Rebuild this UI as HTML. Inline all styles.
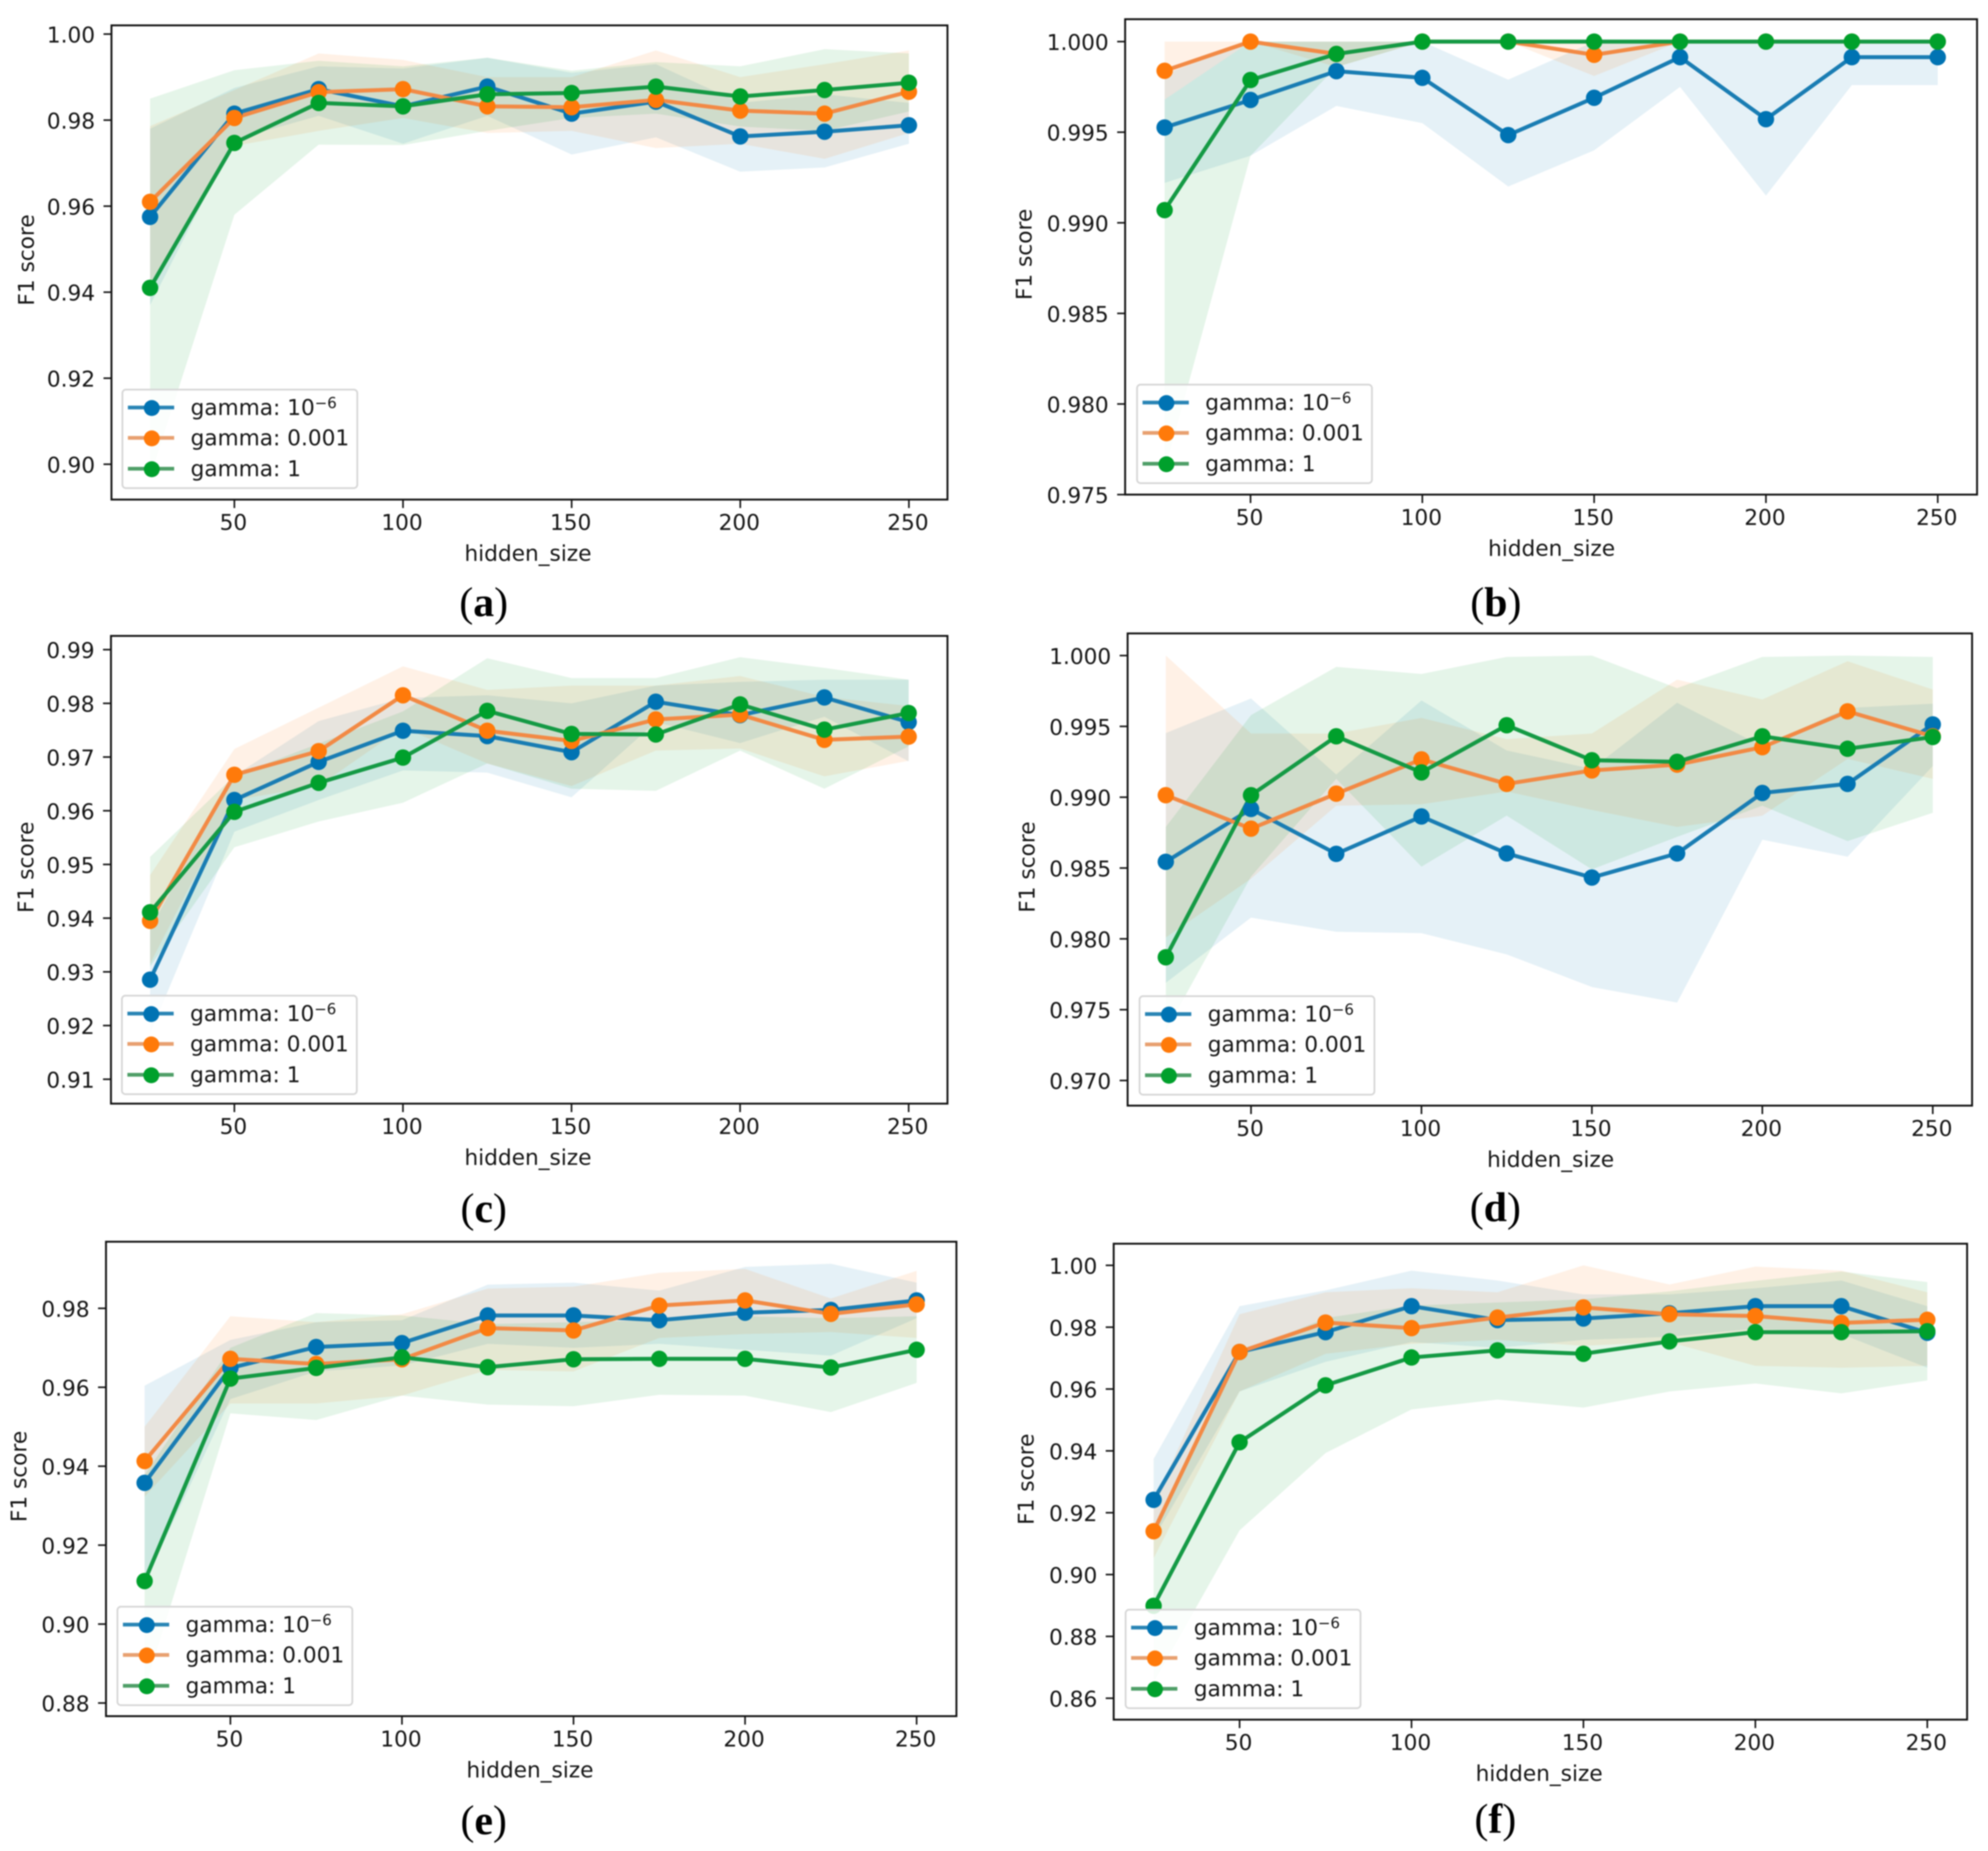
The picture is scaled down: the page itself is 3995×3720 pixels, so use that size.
<!DOCTYPE html>
<html lang="en">
<head>
<meta charset="utf-8">
<title>F1 score vs hidden_size panels</title>
<style>
  html, body { margin: 0; padding: 0; background: #fff; }
  #figure { display: block; width: 3995px; height: 3720px; background: #fff; filter: blur(1.2px); }
  text { font-family: "DejaVu Sans", "Liberation Sans", sans-serif; fill: #151515; }
  .caption { font-family: "Liberation Serif", serif; font-size: 84px; fill: #000; }
</style>
</head>
<body>
<svg id="figure" xmlns="http://www.w3.org/2000/svg" width="3995" height="3720" viewBox="0 0 3995 3720"></svg>
<script>
// ---------- shared categories ----------
const hiddenSizes = [25, 50, 75, 100, 125, 150, 175, 200, 225, 250];
const xTickValues = [50, 100, 150, 200, 250];
const seriesKeys = ['blue', 'orange', 'green'];

// ---------- panel (a) ----------
const aYTicks = ['0.90', '0.92', '0.94', '0.96', '0.98', '1.00'];
const aBlueMean = [.9575, .9815, .9872, .9832, .9878, .9815, .9843, .9762, .9773, .9788];
const aBlueUpper = [.978, .9875, .9925, .992, .9945, .991, .993, .984, .986, .984];
const aBlueLower = [.937, .9755, .981, .9745, .981, .972, .976, .968, .969, .9745];
const aOrangeMean = [.961, .9805, .9865, .9872, .9832, .983, .9847, .9822, .9815, .9866];
const aOrangeUpper = [.9786, .987, .9955, .994, .99, .99, .9962, .99, .993, .9962];
const aOrangeLower = [.941, .974, .9775, .9805, .977, .9775, .9735, .9745, .971, .977];
const aGreenMean = [.941, .9747, .984, .9832, .986, .9863, .9878, .9855, .987, .9887];
const aGreenUpper = [.985, .9916, .9938, .9925, .9945, .9915, .9935, .9925, .9965, .9955];
const aGreenLower = [.897, .958, .9743, .9742, .9775, .9805, .9815, .9785, .9775, .982];

// ---------- panel (b) ----------
const bYTicks = ['0.975', '0.980', '0.985', '0.990', '0.995', '1.000'];
const bBlueMean = [.99526, .99678, .99837, .998, .99484, .9969, .99914, .99572, .99914, .99914];
const bBlueUpper = [.9982, 1, 1, 1, .9979, 1, 1, 1, 1, 1];
const bBlueLower = [.9922, .9937, .99645, .9955, .992, .994, .9975, .9915, .9976, .9976];
const bOrangeMean = [.99839, 1, .99932, 1, 1, .99927, 1, 1, 1, 1];
const bOrangeUpper = [1, 1, 1, 1, 1, 1, 1, 1, 1, 1];
const bOrangeLower = [.9968, 1, .9986, 1, 1, .9981, 1, 1, 1, 1];
const bGreenMean = [.9907, .99788, .99932, 1, 1, 1, 1, 1, 1, 1];
const bGreenUpper = [.9968, 1, 1, 1, 1, 1, 1, 1, 1, 1];
const bGreenLower = [.9763, .9937, .9986, 1, 1, 1, 1, 1, 1, 1];

// ---------- panel (c) ----------
const cYTicks = ['0.91', '0.92', '0.93', '0.94', '0.95', '0.96', '0.97', '0.98', '0.99'];
const cBlueMean = [.92854, .962, .9691, .9749, .9739, .9709, .9803, .9778, .9811, .9765];
const cBlueUpper = [.938, .9665, .9767, .981, .9815, .98, .9833, .984, .9844, .9844];
const cBlueLower = [.9185, .9561, .962, .9675, .9671, .9625, .9765, .9726, .9775, .9692];
const cOrangeMean = [.9395, .9667, .9711, .9815, .9749, .973, .977, .9779, .9732, .9738];
const cOrangeUpper = [.948, .9715, .9792, .9869, .9825, .9833, .9833, .9851, .9812, .9795];
const cOrangeLower = [.9315, .962, .9646, .9755, .9688, .9646, .9712, .9716, .9664, .9693];
const cGreenMean = [.9411, .9598, .9652, .9699, .9786, .9743, .9742, .9798, .9751, .9782];
const cGreenUpper = [.9514, .9665, .9725, .9785, .9884, .9847, .9847, .9886, .9866, .9844];
const cGreenLower = [.931, .9532, .958, .9615, .9688, .9641, .9637, .9712, .9641, .972];

// ---------- panel (d) ----------
const dYTicks = ['0.970', '0.975', '0.980', '0.985', '0.990', '0.995', '1.000'];
const dBlueMean = [.98544, .98917, .986, .98864, .98603, .98433, .98603, .9903, .99094, .99514];
const dBlueUpper = [.99453, .99697, .9916, .99683, .9933, .992, .99667, .9936, .9963, .9966];
const dBlueLower = [.9769, .9815, .9805, .9804, .9789, .9766, .9755, .987, .9858, .9922];
const dOrangeMean = [.99014, .98778, .99025, .99267, .99094, .99189, .9923, .99353, .99606, .9943];
const dOrangeUpper = [1, .9945, .9945, .9956, .9941, .9945, .9983, .9969, .9996, .9976];
const dOrangeLower = [.9801, .98425, .9894, .9895, .9904, .9891, .9879, .9887, .9927, .9913];
const dGreenMean = [.9787, .99014, .9943, .99175, .99508, .99261, .9925, .9943, .99342, .99425];
const dGreenUpper = [.9879, .9958, .9992, .9987, .9999, 1, .9977, .9999, 1, .9999];
const dGreenLower = [.9735, .9844, .9913, .9851, .9887, .9849, .9872, .9894, .9869, .9889];

// ---------- panel (e) ----------
const eYTicks = ['0.88', '0.90', '0.92', '0.94', '0.96', '0.98'];
const eBlueMean = [.93578, .9649, .9702, .9712, .9782, .9782, .977, .9789, .9796, .982];
const eBlueUpper = [.9604, .972, .9765, .977, .986, .9865, .9845, .9905, .9913, .9865];
const eBlueLower = [.9105, .957, .964, .9655, .971, .97, .971, .9695, .968, .9775];
const eOrangeMean = [.9413, .9672, .9659, .9671, .975, .9744, .9807, .982, .9786, .981];
const eOrangeUpper = [.95, .978, .9765, .9785, .985, .9855, .989, .99, .9825, .9895];
const eOrangeLower = [.9323, .9559, .9559, .9579, .9644, .964, .9725, .9735, .974, .9725];
const eGreenMean = [.9109, .9622, .9649, .9676, .9651, .9671, .9672, .9672, .965, .9695];
const eGreenUpper = [.9378, .97, .9788, .9782, .976, .9765, .977, .978, .9775, .978];
const eGreenLower = [.8835, .9534, .9517, .9579, .9556, .9552, .9581, .9579, .9537, .9611];

// ---------- panel (f) ----------
const fYTicks = ['0.86', '0.88', '0.90', '0.92', '0.94', '0.96', '0.98', '1.00'];
const fBlueMean = [.92416, .972, .9784, .9868, .9823, .9828, .9845, .9868, .9868, .9782];
const fBlueUpper = [.9374, .9868, .9919, .9983, .9951, .9906, .9906, .9926, .9951, .9868];
const fBlueLower = [.9117, .9592, .9688, .9752, .9733, .9759, .9769, .9795, .9778, .9669];
const fOrangeMean = [.914, .972, .9815, .9797, .9831, .9864, .9842, .9836, .9814, .9824];
const fOrangeUpper = [.9233, .9842, .9913, .9926, .9913, 1, .9938, .9996, .9983, .9913];
const fOrangeLower = [.9053, .9592, .9714, .9746, .9759, .974, .9752, .9675, .9669, .9675];
const fGreenMean = [.8899, .9428, .9612, .9702, .9725, .9714, .9754, .9784, .9784, .9787];
const fGreenUpper = [.9148, .9713, .983, .987, .988, .989, .9916, .995, .998, .9946];
const fGreenLower = [.865, .9143, .9393, .9534, .9566, .954, .9592, .9618, .9586, .9628];

// ---------- layout (separate from the data) ----------
const seriesColors = { blue: '#0073b3', orange: '#ff7a0a', green: '#00a02c' };
const seriesLineColors = { blue: '#1a7db3', orange: '#f28a45', green: '#159a45' };
const legendLineColors = { blue: '#2a85b5', orange: '#e8a070', green: '#4f9f68' };
const legendLabels = { orange: 'gamma: 0.001', green: 'gamma: 1' };

const panels = [
  { id: 'a', L: 224, R: 1904, T: 51, B: 1004, x50: 471, x250: 1826.5, yLo: [0.90, 933], yHi: [1.00, 68.5], ticks: aYTicks,
    mean: { blue: aBlueMean, orange: aOrangeMean, green: aGreenMean }, upper: { blue: aBlueUpper, orange: aOrangeUpper, green: aGreenUpper }, lower: { blue: aBlueLower, orange: aOrangeLower, green: aGreenLower },
    legend: [246, 783], labelCx: 1061, yLabelX: 68, capX: 972, capY: 1238 },
  { id: 'b', L: 2261, R: 3973, T: 38.6, B: 994, x50: 2513, x250: 3894, yLo: [0.975, 994], yHi: [1.000, 83.6], ticks: bYTicks,
    mean: { blue: bBlueMean, orange: bOrangeMean, green: bGreenMean }, upper: { blue: bBlueUpper, orange: bOrangeUpper, green: bGreenUpper }, lower: { blue: bBlueLower, orange: bOrangeLower, green: bGreenLower },
    legend: [2285, 773], labelCx: 3118, yLabelX: 2073, capX: 3006, capY: 1238 },
  { id: 'c', L: 223, R: 1904, T: 1278, B: 2218, x50: 471, x250: 1826, yLo: [0.91, 2169], yHi: [0.99, 1305.6], ticks: cYTicks,
    mean: { blue: cBlueMean, orange: cOrangeMean, green: cGreenMean }, upper: { blue: cBlueUpper, orange: cOrangeUpper, green: cGreenUpper }, lower: { blue: cBlueLower, orange: cOrangeLower, green: cGreenLower },
    legend: [245, 2001], labelCx: 1061, yLabelX: 67, capX: 972, capY: 2456 },
  { id: 'd', L: 2266, R: 3963, T: 1273, B: 2222, x50: 2514, x250: 3884, yLo: [0.970, 2171.5], yHi: [1.000, 1317.5], ticks: dYTicks,
    mean: { blue: dBlueMean, orange: dOrangeMean, green: dGreenMean }, upper: { blue: dBlueUpper, orange: dOrangeUpper, green: dGreenUpper }, lower: { blue: dBlueLower, orange: dOrangeLower, green: dGreenLower },
    legend: [2290, 2002], labelCx: 3116, yLabelX: 2079, capX: 3005, capY: 2454 },
  { id: 'e', L: 213, R: 1922, T: 2495.5, B: 3449, x50: 463, x250: 1842, yLo: [0.88, 3422.6], yHi: [0.98, 2629.4], ticks: eYTicks,
    mean: { blue: eBlueMean, orange: eOrangeMean, green: eGreenMean }, upper: { blue: eBlueUpper, orange: eOrangeUpper, green: eGreenUpper }, lower: { blue: eBlueLower, orange: eOrangeLower, green: eGreenLower },
    legend: [236, 3229], labelCx: 1065, yLabelX: 53, capX: 972, capY: 3686 },
  { id: 'f', L: 2238, R: 3953, T: 2499.5, B: 3456, x50: 2491, x250: 3873, yLo: [0.86, 3413], yHi: [1.00, 2543], ticks: fYTicks,
    mean: { blue: fBlueMean, orange: fOrangeMean, green: fGreenMean }, upper: { blue: fBlueUpper, orange: fOrangeUpper, green: fGreenUpper }, lower: { blue: fBlueLower, orange: fOrangeLower, green: fGreenLower },
    legend: [2262, 3235], labelCx: 3093, yLabelX: 2077, capX: 3005, capY: 3683 }
];

const NS = 'http://www.w3.org/2000/svg';
const FONT = 43.5;
const figure = document.getElementById('figure');

function svgEl(tag, attrs, parent) {
  const el = document.createElementNS(NS, tag);
  for (const k in attrs) el.setAttribute(k, attrs[k]);
  parent.appendChild(el);
  return el;
}

panels.forEach(function (p) {
  const xScale = function (v) { return p.x50 + (v - 50) * (p.x250 - p.x50) / 200; };
  const yScale = function (v) { return p.yLo[1] + (v - p.yLo[0]) * (p.yHi[1] - p.yLo[1]) / (p.yHi[0] - p.yLo[0]); };

  const g = svgEl('g', {}, figure);
  
  

  const clip = svgEl('clipPath', { id: 'clip-' + p.id }, g);
  svgEl('rect', { x: p.L, y: p.T, width: p.R - p.L, height: p.B - p.T }, clip);

  const plot = svgEl('g', { 'clip-path': 'url(#clip-' + p.id + ')' }, g);

  // bands first, then lines and markers
  seriesKeys.forEach(function (key) {
    const up = p.upper[key], lo = p.lower[key];
    const top = hiddenSizes.map(function (h, i) { return xScale(h).toFixed(1) + ',' + yScale(up[i]).toFixed(1); });
    const bot = hiddenSizes.map(function (h, i) { return xScale(h).toFixed(1) + ',' + yScale(lo[i]).toFixed(1); }).reverse();
    const band = svgEl('polygon', { points: top.concat(bot).join(' '), fill: seriesColors[key], 'fill-opacity': 0.1, stroke: 'none' }, plot);
    
    
  });

  seriesKeys.forEach(function (key) {
    const mean = p.mean[key];
    const pts = hiddenSizes.map(function (h, i) { return xScale(h).toFixed(1) + ',' + yScale(mean[i]).toFixed(1); }).join(' ');
    const line = svgEl('polyline', { points: pts, fill: 'none', stroke: seriesLineColors[key], 'stroke-width': 8, 'stroke-linejoin': 'round' }, plot);
    
    
  });
  seriesKeys.forEach(function (key) {
    const mean = p.mean[key];
    hiddenSizes.forEach(function (h, i) {
      const dot = svgEl('circle', { cx: xScale(h), cy: yScale(mean[i]), r: 16.5, fill: seriesColors[key] }, g);
      
      
    });
  });

  // spines
  const frame = svgEl('rect', { x: p.L, y: p.T, width: p.R - p.L, height: p.B - p.T, fill: 'none', stroke: '#111', 'stroke-width': 3.8 }, g);
  
  

  // x axis
  xTickValues.forEach(function (v) {
    const x = xScale(v);
    const tick = svgEl('line', { x1: x, x2: x, y1: p.B, y2: p.B + 17, stroke: '#111', 'stroke-width': 3.2 }, g);
    
    
    const lab = svgEl('text', { x: x - 2, y: p.B + 61, 'text-anchor': 'middle', 'font-size': FONT }, g);
    lab.textContent = String(v);
    
    
  });
  const xTitle = svgEl('text', { x: p.labelCx, y: p.B + 123, 'text-anchor': 'middle', 'font-size': FONT }, g);
  xTitle.textContent = 'hidden_size';
  
  

  // y axis
  p.ticks.forEach(function (label) {
    const y = yScale(parseFloat(label));
    const tick = svgEl('line', { x1: p.L - 16, x2: p.L, y1: y, y2: y, stroke: '#111', 'stroke-width': 3.2 }, g);
    
    
    const lab = svgEl('text', { x: p.L - 33, y: y + 17, 'text-anchor': 'end', 'font-size': FONT }, g);
    lab.textContent = label;
    
    
  });
  const yc = (p.T + p.B) / 2 - 5;
  const yTitle = svgEl('text', { x: p.yLabelX, y: yc, 'text-anchor': 'middle', 'font-size': FONT, transform: 'rotate(-90 ' + p.yLabelX + ' ' + yc + ')' }, g);
  yTitle.textContent = 'F1 score';
  
  

  // legend
  const lx = p.legend[0], ly = p.legend[1];
  const legend = svgEl('g', {}, g);
  
  
  svgEl('rect', { x: lx, y: ly, width: 472, height: 198, rx: 7, ry: 7, fill: '#fff', 'fill-opacity': 0.85, stroke: '#d6d6d6', 'stroke-width': 3.5 }, legend);
  const rowOffsets = [36, 97, 159];
  seriesKeys.forEach(function (key, i) {
    const ry = ly + rowOffsets[i];
    const entry = svgEl('g', {}, legend);
    
    
    svgEl('line', { x1: lx + 11, x2: lx + 104, y1: ry, y2: ry, stroke: legendLineColors[key], 'stroke-width': 7.5 }, entry);
    svgEl('circle', { cx: lx + 59, cy: ry + 1, r: 16, fill: seriesColors[key] }, entry);
    const t = svgEl('text', { x: lx + 137, y: ry + 15, 'font-size': FONT }, entry);
    if (key === 'blue') {
      t.appendChild(document.createTextNode('gamma: 10'));
      const sup = svgEl('tspan', { dy: -14, 'font-size': 30 }, t);
      sup.textContent = '\u22126';
    } else {
      t.textContent = legendLabels[key];
    }
  });

  // caption
  const cap = svgEl('text', { x: p.capX, y: p.capY, 'text-anchor': 'middle', 'class': 'caption' }, g);
  cap.appendChild(document.createTextNode('('));
  const letter = svgEl('tspan', { 'font-weight': 'bold' }, cap);
  letter.textContent = p.id;
  cap.appendChild(document.createTextNode(')'));
  
  
});
</script>
</body>
</html>
